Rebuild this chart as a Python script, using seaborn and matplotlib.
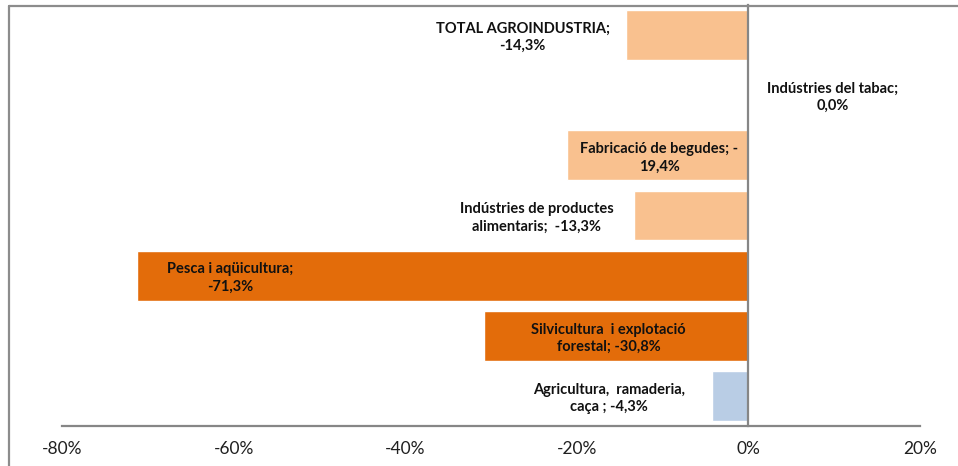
import matplotlib
matplotlib.use("Agg")
import matplotlib.pyplot as plt
import matplotlib.lines as mlines
import pandas as pd
import seaborn as sns

# ---------- data ----------
categories = [
    "TOTAL AGROINDUSTRIA",
    "Indústries del tabac",
    "Fabricació de begudes",
    "Indústries de productes alimentaris",
    "Pesca i aqüicultura",
    "Silvicultura i explotació forestal",
    "Agricultura, ramaderia, caça",
]
# bar lengths as drawn (the begudes bar is drawn longer than its label says)
values = [-14.3, 0.0, -21.1, -13.3, -71.3, -30.8, -4.3]
labels = [
    "TOTAL AGROINDUSTRIA;\n-14,3%",
    "Indústries del tabac;\n0,0%",
    "Fabricació de begudes; -\n19,4%",
    "Indústries de productes\nalimentaris;  -13,3%",
    "Pesca i aqüicultura;\n-71,3%",
    "Silvicultura  i explotació\nforestal; -30,8%",
    "Agricultura,  ramaderia,\ncaça ; -4,3%",
]
bar_colors = ["#F9C18F", "#F9C18F", "#F9C18F", "#F9C18F", "#E36C0A", "#E36C0A", "#B9CDE5"]
label_x = [-26.3, 9.8, -10.4, -24.7, -60.4, -16.3, -16.2]  # label centres, in % units
ticks = [-80, -60, -40, -20, 0, 20]

df = pd.DataFrame({"cat": categories, "val": values})

# ---------- plot ----------
sns.set_theme(style="white")
plt.rcParams["font.family"] = ["Lato", "DejaVu Sans"]
grey = "#868686"

fig = plt.figure(figsize=(9.58, 4.66), dpi=100)
ax = fig.add_axes([62 / 958, 40 / 466, (920 - 62) / 958, (426 - 5) / 466])

sns.barplot(data=df, y="cat", x="val", hue="cat", palette=bar_colors,
            order=categories, hue_order=categories, orient="h",
            width=0.83, saturation=1, legend=False, ax=ax)

ax.set_xlim(-80, 20)
ax.set_ylim(6.5, -0.5)
ax.set_xticks(ticks)
ax.set_xticklabels([f"{t}%" for t in ticks], fontsize=12.5, color="#202020")
ax.set_yticks([])
ax.set_xlabel("")
ax.set_ylabel("")

for s in ["top", "right"]:
    ax.spines[s].set_visible(False)
ax.spines["left"].set_position(("data", 0))
ax.spines["left"].set_color(grey)
ax.spines["left"].set_linewidth(1.6)
ax.spines["bottom"].set_color(grey)
ax.spines["bottom"].set_linewidth(1.6)
ax.tick_params(axis="x", direction="inout", length=9, width=1.4, color=grey, pad=6)

for i, (txt, lx) in enumerate(zip(labels, label_x)):
    ax.text(lx, i + 0.04, txt, ha="center", va="center", fontsize=10.5,
            fontweight="bold", color="#111111", linespacing=1.3)

# chart frame (only top and left edges visible)
fig.add_artist(mlines.Line2D([9 / 958, 1], [1 - 6 / 466, 1 - 6 / 466],
                             transform=fig.transFigure, color="#8c8c8c", lw=1.6))
fig.add_artist(mlines.Line2D([9 / 958, 9 / 958], [0, 1 - 6 / 466],
                             transform=fig.transFigure, color="#8c8c8c", lw=1.6))

fig.savefig("out.png", dpi=100)
